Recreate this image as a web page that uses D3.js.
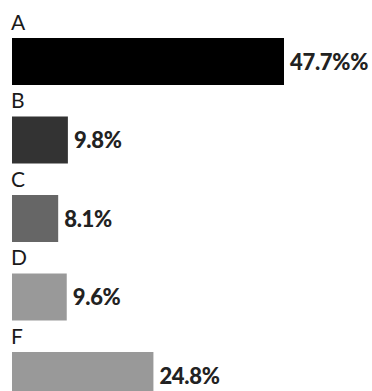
<!DOCTYPE html>
<html><head><meta charset="utf-8">
<script src="https://cdn.jsdelivr.net/npm/d3@7"></script>
<style>
html,body{margin:0;padding:0;background:#fff;}
svg{display:block;}
</style></head>
<body>
<script>
const categories = ["A","B","C","D","F"];
const values = [47.7, 9.8, 8.1, 9.6, 24.8];
const valueLabels = ["47.7%%","9.8%","8.1%","9.6%","24.8%"];
const colors = ["#000000","#333333","#666666","#999999","#999999"];

const W = 372, H = 391;
const svg = d3.select("body").append("svg").attr("width", W).attr("height", H);

const x = d3.scaleLinear().domain([0, 47.7]).range([12, 284]);
const y = d3.scaleBand().domain(categories).range([38 - 31.5, 38 - 31.5 + 5 * 78.5]).paddingInner(0).paddingOuter(0);
const barTop = c => y(c) + 31.5;
const barH = 47;

const g = svg.selectAll("g.row").data(categories).enter().append("g");

g.append("text")
  .attr("x", 11)
  .attr("y", c => barTop(c) - 8.5)
  .attr("font-family", "Lato, 'Open Sans', sans-serif")
  .attr("font-weight", 400)
  .attr("font-size", 21)
  .attr("fill", "#1a1a1a")
  .text(c => c);

g.append("rect")
  .attr("x", x(0))
  .attr("y", c => barTop(c))
  .attr("width", (c,i) => x(values[i]) - x(0))
  .attr("height", barH)
  .attr("fill", (c,i) => colors[i]);

g.append("text")
  .attr("x", (c,i) => x(values[i]) + 6)
  .attr("y", c => barTop(c) + barH/2 + 8)
  .attr("font-family", "Lato, 'Open Sans', sans-serif")
  .attr("font-weight", 900)
  .attr("font-size", 22)
  .attr("letter-spacing", -0.3)
  .attr("fill", "#222")
  .text((c,i) => valueLabels[i]);
</script>
</body></html>
